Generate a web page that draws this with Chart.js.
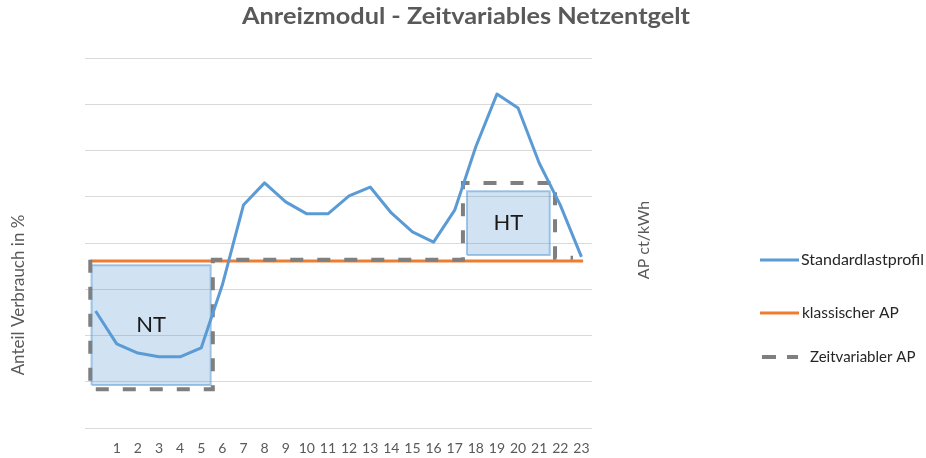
<!DOCTYPE html>
<html>
<head>
<meta charset="utf-8">
<script src="https://cdn.jsdelivr.net/npm/chart.js@4/dist/chart.umd.min.js"></script>
<style>
html,body{margin:0;padding:0;background:#fff;}
#wrap{position:relative;width:926px;height:458px;}
</style>
</head>
<body>
<div id="wrap"><canvas id="c" width="926" height="458"></canvas></div>
<script>
// ---- data ----
const hours = [0,1,2,3,4,5,6,7,8,9,10,11,12,13,14,15,16,17,18,19,20,21,22,23];
const tickLabels = ['1','2','3','4','5','6','7','8','9','10','11','12','13','14','15','16','17','18','19','20','21','22','23'];
const standardlastprofil = [2.53,1.82,1.62,1.54,1.54,1.73,3.09,4.82,5.30,4.89,4.63,4.63,5.02,5.21,4.65,4.24,4.02,4.71,6.08,7.22,6.92,5.73,4.82,3.70];
const klassischerApX = [-0.25, 23.08];
const klassischerApY = [3.61, 3.61];
const zeitvariablerApX = [-0.25,-0.25,5.55,5.55,17.39,17.39,21.75,21.75,22.6];
const zeitvariablerApY = [3.64,0.84,0.84,3.64,3.64,5.30,5.30,3.68,3.68];
const ntBoxX = [-0.19, 5.45];
const ntBoxY = [0.93, 3.52];
const htBoxX = [17.58, 21.5];
const htBoxY = [3.74, 5.12];
const seriesNames = ['Standardlastprofil','klassischer AP','Zeitvariabler AP'];
const boxLabels = ['NT','HT'];
const titleText = 'Anreizmodul - Zeitvariables Netzentgelt';
const yTitleLeft = 'Anteil Verbrauch in %';
const yTitleRight = 'AP ct/kWh';

const FONT = 'Lato, "Liberation Sans", sans-serif';
const BLUE = '#5B9BD5', ORANGE = '#ED7D31', GREY = '#7F7F7F';
const BOX_FILL = 'rgba(91,155,213,0.28)', BOX_LINE = 'rgba(91,155,213,0.55)';

function pts(xs, ys){ return xs.map((x,i)=>({x:x, y:ys[i]})); }
// open rectangle (x never decreases) used for the filled area
function boxArea(xs, ys){
  return [{x:xs[0],y:ys[0]},{x:xs[0],y:ys[1]},{x:xs[1],y:ys[1]},{x:xs[1],y:ys[0]}];
}
// closed outline
function boxOutline(xs, ys){
  return [{x:xs[0],y:ys[0]},{x:xs[0],y:ys[1]},{x:xs[1],y:ys[1]},{x:xs[1],y:ys[0]},{x:xs[0],y:ys[0]}];
}

function fitText(ctx, text, x, y, width){
  const w = ctx.measureText(text).width;
  ctx.save(); ctx.translate(x, y); ctx.scale(width / w, 1); ctx.fillText(text, 0, 0); ctx.restore();
}

const textPlugin = {
  id: 'texts',
  afterDatasetsDraw(chart){
    const ctx = chart.ctx, xs = chart.scales.x, ys = chart.scales.y;
    ctx.save();
    ctx.fillStyle = '#1a1a1a';
    ctx.font = '22px ' + FONT;
    ctx.textAlign = 'center'; ctx.textBaseline = 'middle';
    ctx.fillText(boxLabels[0], xs.getPixelForValue((ntBoxX[0]+ntBoxX[1])/2), ys.getPixelForValue((ntBoxY[0]+ntBoxY[1])/2));
    ctx.fillText(boxLabels[1], xs.getPixelForValue((htBoxX[0]+htBoxX[1])/2), ys.getPixelForValue((htBoxY[0]+htBoxY[1])/2));
    ctx.restore();
  },
  afterDraw(chart){
    const ctx = chart.ctx;
    ctx.save();
    // title
    ctx.fillStyle = '#595959';
    ctx.font = 'bold 22px ' + FONT;
    ctx.textAlign = 'center'; ctx.textBaseline = 'alphabetic';
    fitText(ctx, titleText, 466, 24, 448);
    // axis titles
    ctx.textBaseline = 'middle';
    ctx.font = '17px ' + FONT;
    ctx.save(); ctx.translate(19, 295); ctx.rotate(-Math.PI/2); ctx.fillText(yTitleLeft, 0, 0); ctx.restore();
    ctx.font = '16px ' + FONT;
    ctx.save(); ctx.translate(644, 240); ctx.rotate(-Math.PI/2); ctx.fillText(yTitleRight, 0, 0); ctx.restore();
    // legend
    ctx.textAlign = 'left';
    ctx.fillStyle = '#262626';
    ctx.lineCap = 'butt';
    ctx.strokeStyle = BLUE; ctx.lineWidth = 3;
    ctx.beginPath(); ctx.moveTo(760,260); ctx.lineTo(799,260); ctx.stroke();
    ctx.font = '16px ' + FONT;
    ctx.fillText(seriesNames[0], 801, 260);
    ctx.strokeStyle = ORANGE;
    ctx.beginPath(); ctx.moveTo(760,313); ctx.lineTo(799,313); ctx.stroke();
    ctx.font = '15.5px ' + FONT;
    ctx.fillText(seriesNames[1], 802, 313);
    ctx.strokeStyle = GREY; ctx.lineWidth = 4;
    ctx.beginPath(); ctx.moveTo(762,357); ctx.lineTo(776,357); ctx.moveTo(787,357); ctx.lineTo(798,357); ctx.stroke();
    ctx.font = '15px ' + FONT;
    ctx.fillText(seriesNames[2], 810, 357);
    ctx.restore();
  }
};

new Chart(document.getElementById('c'), {
  type: 'line',
  data: {
    datasets: [
      { label: 'NT-Fläche', data: boxArea(ntBoxX, ntBoxY), borderWidth: 0, borderColor: 'rgba(0,0,0,0)',
        backgroundColor: BOX_FILL, fill: {value: ntBoxY[0]}, pointRadius: 0, tension: 0, order: 12 },
      { label: 'HT-Fläche', data: boxArea(htBoxX, htBoxY), borderWidth: 0, borderColor: 'rgba(0,0,0,0)',
        backgroundColor: BOX_FILL, fill: {value: htBoxY[0]}, pointRadius: 0, tension: 0, order: 11 },
      { label: 'NT-Rahmen', data: boxOutline(ntBoxX, ntBoxY), borderColor: BOX_LINE, borderWidth: 2,
        fill: false, pointRadius: 0, tension: 0, order: 10 },
      { label: 'HT-Rahmen', data: boxOutline(htBoxX, htBoxY), borderColor: BOX_LINE, borderWidth: 2,
        fill: false, pointRadius: 0, tension: 0, order: 9 },
      { label: seriesNames[1], data: pts(klassischerApX, klassischerApY), borderColor: ORANGE, borderWidth: 3,
        pointRadius: 0, tension: 0, fill: false, order: 4 },
      { label: seriesNames[2], data: pts(zeitvariablerApX, zeitvariablerApY), borderColor: GREY, borderWidth: 4,
        borderDash: [13,14], pointRadius: 0, tension: 0, fill: false, order: 3 },
      { label: seriesNames[0], data: pts(hours, standardlastprofil), borderColor: BLUE, borderWidth: 3,
        pointRadius: 0, tension: 0, fill: false, order: 1, borderJoinStyle: 'round' }
    ]
  },
  options: {
    responsive: false,
    animation: false,
    events: [],
    layout: { padding: { left: 0, right: 334, top: 58, bottom: 0 } },
    plugins: { legend: { display: false }, tooltip: { enabled: false }, title: { display: false } },
    scales: {
      x: {
        type: 'linear', min: -0.5, max: 23.5,
        grid: { display: false, drawTicks: false },
        border: { display: false },
        afterBuildTicks(scale){ scale.ticks = tickLabels.map(t => ({ value: Number(t) })); },
        ticks: { color: '#595959', font: { family: FONT, size: 14 }, padding: 12, maxRotation: 0, autoSkip: false,
                 callback: (v) => tickLabels[tickLabels.indexOf(String(v))] },
        afterFit(scale){ scale.height = 30; }
      },
      y: {
        min: 0, max: 8,
        ticks: { display: false, stepSize: 1 },
        grid: { color: '#D9D9D9', lineWidth: 1, drawTicks: false },
        border: { display: false },
        afterFit(scale){ scale.width = 85; }
      }
    }
  },
  plugins: [textPlugin]
});
</script>
</body>
</html>
